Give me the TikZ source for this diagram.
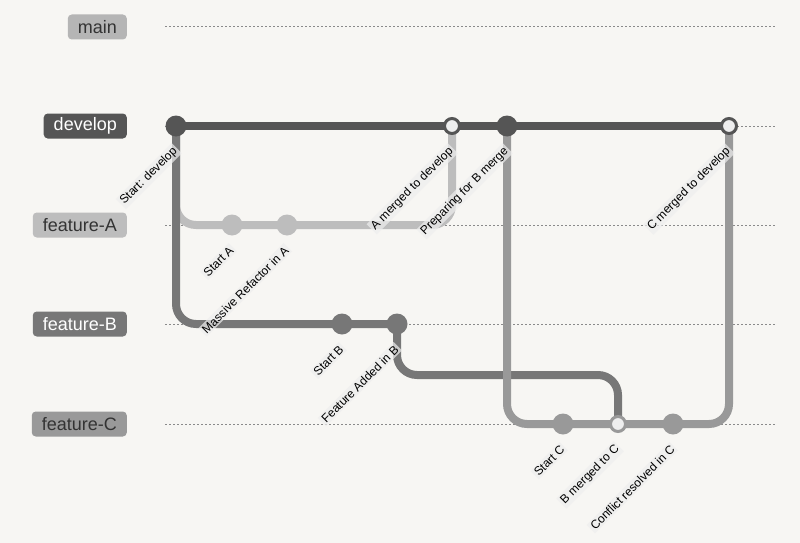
\documentclass[tikz,border=0pt]{standalone}
\usepackage{fontspec}
\setmainfont{Liberation Sans}
\usetikzlibrary{calc}
\definecolor{bgc}{HTML}{F7F6F3}
\definecolor{cdev}{HTML}{555555}
\definecolor{cmain}{HTML}{B5B5B5}
\definecolor{cA}{HTML}{BDBDBD}
\definecolor{cB}{HTML}{777777}
\definecolor{cC}{HTML}{999999}
\definecolor{lanec}{HTML}{8A8A8A}
\definecolor{hole}{HTML}{EEEEEE}
\definecolor{lbk}{HTML}{EEEEEE}
\definecolor{txt}{HTML}{333333}
\begin{document}
\begin{tikzpicture}[x=1pt,y=-1pt,
  lane/.style={lanec,line width=1pt,dash pattern=on 2pt off 2pt},
  branchlbl/.style={anchor=east,rounded corners=4pt,minimum height=25pt,inner xsep=10pt,inner ysep=0pt,font=\fontsize{18}{20}\selectfont},
  gitline/.style={line width=8pt,rounded corners=20pt},
  commit/.style={circle,inner sep=0pt,minimum size=21pt},
  mergec/.style={circle,inner sep=0pt,minimum size=15pt,fill=hole,line width=3pt},
  clabel/.style={rotate=45,anchor=east,fill=lbk,fill opacity=0.7,text opacity=1,text=black,inner xsep=2pt,inner ysep=1.5pt,font=\fontsize{12}{13}\selectfont}
]
\fill[bgc] (0,0) rectangle (800,543);
\useasboundingbox (0,0) rectangle (800,543);
% lanes
\foreach \yy in {27,126,225,324,424} \draw[lane] (165,\yy) -- (775,\yy);
% branch labels
\node[branchlbl,fill=cmain,text=txt] (lmain) at (127,27) {main};
\node[branchlbl,fill=cdev,text=white] (ldev) at (127,126) {develop};
\node[branchlbl,fill=cA,text=txt] (lA) at (127,225) {feature-A};
\node[branchlbl,fill=cB,text=white] (lB) at (127,324) {feature-B};
\node[branchlbl,fill=cC,text=txt] (lC) at (127,424) {feature-C};
% commit positions
\coordinate (d1) at (176,126);
\coordinate (a1) at (232,225);
\coordinate (a2) at (287,225);
\coordinate (b1) at (342,324);
\coordinate (b2) at (397,324);
\coordinate (dm1) at (452,126);
\coordinate (d3) at (507,126);
\coordinate (c1) at (563,424);
\coordinate (cm) at (618,424);
\coordinate (c3) at (673,424);
\coordinate (dm2) at (729,126);
\coordinate (rr) at (618,375);
% feature-A
\draw[gitline,cA] (d1) |- (a1) -- (a2) -| (dm1);
% feature-B
\draw[gitline,cB] (d1) |- (b1) -- (b2);
\draw[gitline,cB] (b2) -- (b2 |- rr) -- (rr) -- (cm);
% develop
\draw[gitline,cdev] (d1) -- (dm1) -- (d3) -- (dm2);
% feature-C
\draw[gitline,cC] (d3) |- (c1) -- (cm) -- (c3) -| (dm2);
% commits
\node[commit,fill=cdev] (n1) at (d1) {};
\node[commit,fill=cA] (n2) at (a1) {};
\node[commit,fill=cA] (n3) at (a2) {};
\node[commit,fill=cB] (n4) at (b1) {};
\node[commit,fill=cB] (n5) at (b2) {};
\node[mergec,draw=cdev] (n6) at (dm1) {};
\node[commit,fill=cdev] (n7) at (d3) {};
\node[commit,fill=cC] (n8) at (c1) {};
\node[mergec,draw=cC] (n9) at (cm) {};
\node[commit,fill=cC] (n10) at (c3) {};
\node[mergec,draw=cdev] (n11) at (dm2) {};
% commit labels
\node[clabel] at ($(d1)+(1,22)$) {Start: develop};
\node[clabel] at ($(a1)+(1,22)$) {Start A};
\node[clabel] at ($(a2)+(1,22)$) {Massive Refactor in A};
\node[clabel] at ($(b1)+(1,22)$) {Start B};
\node[clabel] at ($(b2)+(1,22)$) {Feature Added in B};
\node[clabel] at ($(dm1)+(1,22)$) {A merged to develop};
\node[clabel] at ($(d3)+(1,22)$) {Preparing for B merge};
\node[clabel] at ($(c1)+(1,22)$) {Start C};
\node[clabel] at ($(cm)+(1,22)$) {B merged to C};
\node[clabel] at ($(c3)+(1,22)$) {Conflict resolved in C};
\node[clabel] at ($(dm2)+(1,22)$) {C merged to develop};
\end{tikzpicture}
\end{document}
